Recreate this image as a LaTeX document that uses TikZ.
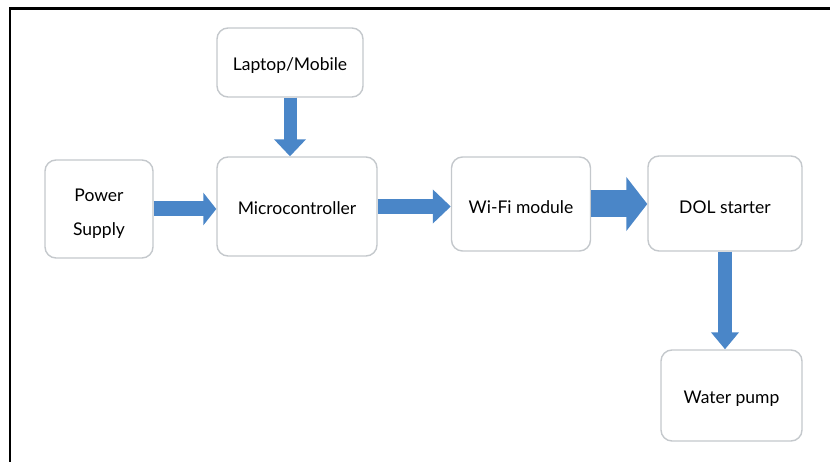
\documentclass[tikz,border=0pt]{standalone}
\usepackage{fontspec}
\setmainfont{Lato}
\usetikzlibrary{arrows.meta}
\definecolor{flowblue}{RGB}{74,134,200}
\definecolor{boxgray}{RGB}{196,200,204}
\tikzset{
  block/.style={draw=boxgray, line width=1.4pt, rounded corners=11pt, fill=white},
  caption/.style={align=center, font=\fontsize{17.5}{34}\selectfont, text=black},
  flow/.style={draw=flowblue, line width=#1},
}
\begin{document}
\begin{tikzpicture}[x=1pt,y=-1pt]
  \useasboundingbox (0,0) rectangle (830,462);
  % page frame (top and left edges)
  \draw[line width=2.5pt, line cap=rect] (10,462) -- (10,8.5) -- (830,8.5);

  % blocks
  \node[block, minimum width=146pt, minimum height=69pt] (lap) at (290,62.5) {};
  \node[block, minimum width=108pt, minimum height=98pt] (ps)  at (99,209) {};
  \node[block, minimum width=160pt, minimum height=99pt] (mc)  at (297,206.5) {};
  \node[block, minimum width=139pt, minimum height=94pt] (wf)  at (521,204) {};
  \node[block, minimum width=154pt, minimum height=95pt] (dol) at (725,203.5) {};
  \node[block, minimum width=141pt, minimum height=91pt] (wp)  at (731.5,395.5) {};

  % block texts
  \node[caption] (lapt) at ([yshift=-3pt]lap.center) {Laptop/Mobile};
  \node[caption] (pst)  at ([yshift=-5pt]ps.center)  {Power\\Supply};
  \node[caption] (mct)  at ([yshift=-2pt]mc.center)  {Microcontroller};
  \node[caption] (wft)  at ([yshift=-3pt]wf.center)  {Wi-Fi module};
  \node[caption] (dolt) at ([yshift=-4pt]dol.center) {DOL starter};
  \node[caption] (wpt)  at ([yshift=-3pt]wp.center)  {Water pump};

  % block arrows
  \draw[flow=15pt, -{Triangle[length=13pt,width=32pt]}] (ps.east) -- (ps.east -| mc.west);
  \draw[flow=15pt, -{Triangle[length=18pt,width=33pt]}] (mc.east) -- (mc.east -| wf.west);
  \draw[flow=27pt, -{Triangle[length=21pt,width=53pt]}] (wf.east) -- (wf.east -| dol.west);
  \draw[flow=13pt, -{Triangle[length=17pt,width=31pt]}] (lap.south) -- (lap.south |- mc.north);
  \draw[flow=14pt, -{Triangle[length=17pt,width=27pt]}] (dol.south) -- (dol.south |- wp.north);
\end{tikzpicture}
\end{document}
